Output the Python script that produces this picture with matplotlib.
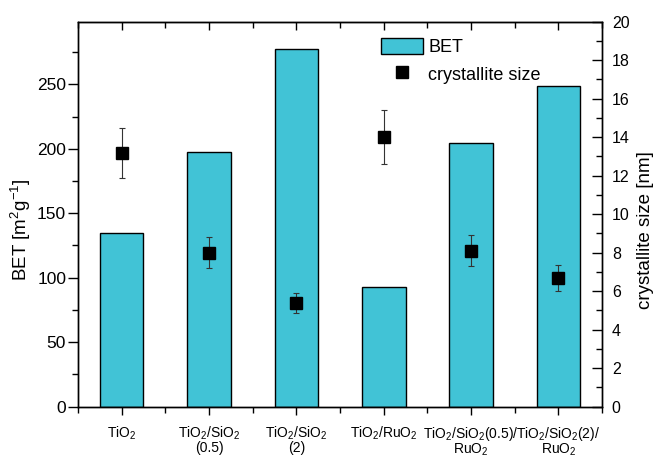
import numpy as np
import matplotlib.pyplot as plt
from matplotlib.ticker import MultipleLocator

plt.rcParams['font.family'] = ['Liberation Sans', 'DejaVu Sans']
plt.rcParams['font.size'] = 11
plt.rcParams['mathtext.default'] = 'regular'

# Datos
samples = ['TiO$_2$', 'TiO$_2$/SiO$_2$\n(0.5)', 'TiO$_2$/SiO$_2$\n(2)', 'TiO$_2$/RuO$_2$',
           'TiO$_2$/SiO$_2$(0.5)/\nRuO$_2$', 'TiO$_2$/SiO$_2$(2)/\nRuO$_2$']
bet = [134.5, 197.3, 277.1, 93.0, 204.2, 248.7]
cryst = [13.2, 8.0, 5.4, 14.0, 8.1, 6.7]
cryst_err = [1.3, 0.8, 0.53, 1.4, 0.8, 0.67]

x = np.arange(len(samples))

fig = plt.figure(figsize=(6.53, 4.57), dpi=100)
ax = fig.add_axes([0.1194, 0.110, 0.8026, 0.8425])
ax2 = ax.twinx()

bars = ax.bar(x, bet, width=0.5, color='#41C3D6', edgecolor='black', linewidth=1, label='BET', zorder=2)
eb = ax2.errorbar(x, cryst, yerr=cryst_err, fmt='s', color='black', ms=8.5,
                  ecolor='#333333', elinewidth=0.8, capsize=2.5, capthick=0.8, zorder=3)

ax.set_xlim(-0.5, 5.5)
ax.set_ylim(0, 298.5)
ax2.set_ylim(0, 20)

ax.set_xticks(x)
ax.set_xticklabels(samples, linespacing=0.9, fontsize=10)
ax.xaxis.set_minor_locator(MultipleLocator(0.5))
ax.yaxis.set_major_locator(MultipleLocator(50))
ax.yaxis.set_minor_locator(MultipleLocator(25))
ax2.yaxis.set_major_locator(MultipleLocator(2))
ax2.yaxis.set_minor_locator(MultipleLocator(1))

ax.tick_params(axis='x', which='both', direction='out', top=False, width=1)
ax.tick_params(axis='x', which='major', length=6, pad=7)
ax.tick_params(axis='x', which='minor', length=4)
ax.tick_params(axis='y', which='major', direction='out', length=7, width=1, labelsize=12.5, pad=1.5)
ax.tick_params(axis='y', which='minor', direction='out', length=4, width=1)
ax2.tick_params(axis='y', which='major', direction='in', length=7, width=1, labelsize=11.5, pad=7)
ax2.tick_params(axis='y', which='minor', direction='in', length=4, width=1)

# ticks de arriba hacia dentro
secx = ax.secondary_xaxis('top')
secx.set_xticks(x)
secx.set_xticklabels([])
secx.xaxis.set_minor_locator(MultipleLocator(0.5))
secx.tick_params(axis='x', which='both', direction='in', width=1)
secx.tick_params(axis='x', which='major', length=6)
secx.tick_params(axis='x', which='minor', length=4)

for a in (ax, ax2):
    for s in a.spines.values():
        s.set_linewidth(1)

ax.set_ylabel('BET [m$^2$g$^{-1}$]', fontsize=13.5)
ax2.set_ylabel('crystallite size [nm]', fontsize=13.5)
ax.yaxis.set_label_coords(-0.086, 0.46)
ax2.yaxis.set_label_coords(1.066, 0.46)

ax2.legend([bars, eb[0]], ['BET', 'crystallite size'], loc='upper left',
           bbox_to_anchor=(0.548, 1.0), frameon=False, fontsize=13,
           handlelength=2.3, handleheight=1.0, handletextpad=0.3, labelspacing=0.5)

plt.savefig('out.png', dpi=100)
